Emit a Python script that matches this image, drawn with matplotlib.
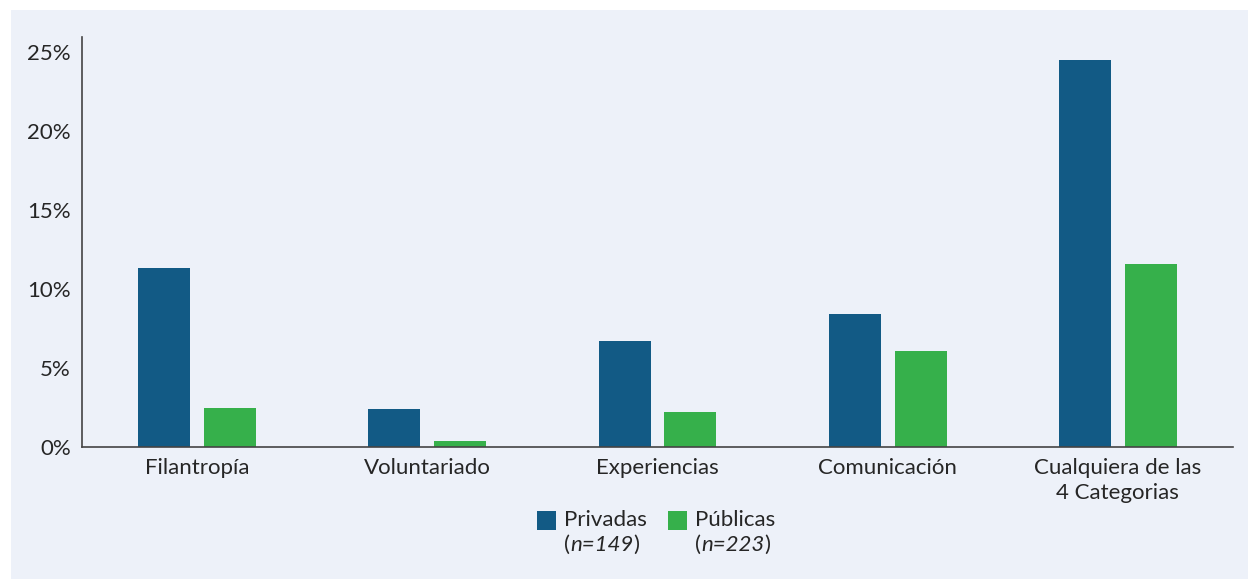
import matplotlib.pyplot as plt
from matplotlib.patches import Rectangle
import numpy as np

plt.rcParams['font.family'] = ['Lato', 'DejaVu Sans']

categories = ['Filantropía', 'Voluntariado', 'Experiencias', 'Comunicación',
              'Cualquiera de las\n4 Categorias']
privadas = [11.3, 2.4, 6.7, 8.4, 24.5]
publicas = [2.5, 0.4, 2.2, 6.1, 11.6]
yticks = [0, 5, 10, 15, 20, 25]

c_priv = '#125a85'
c_pub = '#36b04b'
bg = '#edf1f9'
txt = '#262626'
fs = 16

W, H = 1248, 579
fig = plt.figure(figsize=(W / 100, H / 100), dpi=100)
fig.patch.set_facecolor('white')
fig.patches.append(Rectangle((11 / W, 0), 1 - 11 / W, 1 - 10 / H,
                             transform=fig.transFigure, facecolor=bg,
                             edgecolor='none', zorder=-5))

ax = fig.add_axes([82 / W, 1 - 447 / H, (1233 - 82) / W, (447 - 37) / H])
ax.set_facecolor('none')

x = np.arange(len(categories))
w = 0.226
off = 0.143
ax.bar(x - off, privadas, width=w, color=c_priv)
ax.bar(x + off, publicas, width=w, color=c_pub)

ax.set_xlim(-0.5, len(categories) - 0.5)
ax.set_ylim(0, 25.95)
ax.set_yticks(yticks)
ax.set_yticklabels([f'{v}%' for v in yticks])
ax.set_xticks(x)
ax.set_xticklabels(categories, linespacing=1.3)
ax.tick_params(length=0, labelsize=fs, labelcolor=txt)
ax.tick_params(axis='y', pad=8)
ax.tick_params(axis='x', pad=8)
for s in ['top', 'right']:
    ax.spines[s].set_visible(False)
for s in ['left', 'bottom']:
    ax.spines[s].set_color('#444444')
    ax.spines[s].set_linewidth(1.2)

# legend
def legend_item(px, color, name, n):
    fig.patches.append(Rectangle((px / W, 1 - 530 / H), 19 / W, 19 / H,
                                 transform=fig.transFigure, facecolor=color,
                                 edgecolor='none'))
    fig.text((px + 27) / W, 1 - 520 / H, name, fontsize=fs, color=txt,
             va='center', ha='left')
    t1 = fig.text((px + 27) / W, 1 - 545 / H, '(', fontsize=fs, color=txt,
                  va='center', ha='left')
    a2 = ax.annotate('n=' + n, xy=(1, 0), xycoords=t1, va='bottom', ha='left',
                     fontsize=fs, color=txt, style='italic',
                     annotation_clip=False)
    ax.annotate(')', xy=(1, 0), xycoords=a2, va='bottom', ha='left',
                fontsize=fs, color=txt, annotation_clip=False)

legend_item(537, c_priv, 'Privadas', '149')
legend_item(668, c_pub, 'Públicas', '223')

fig.savefig('out.png', dpi=100, facecolor=fig.get_facecolor())
